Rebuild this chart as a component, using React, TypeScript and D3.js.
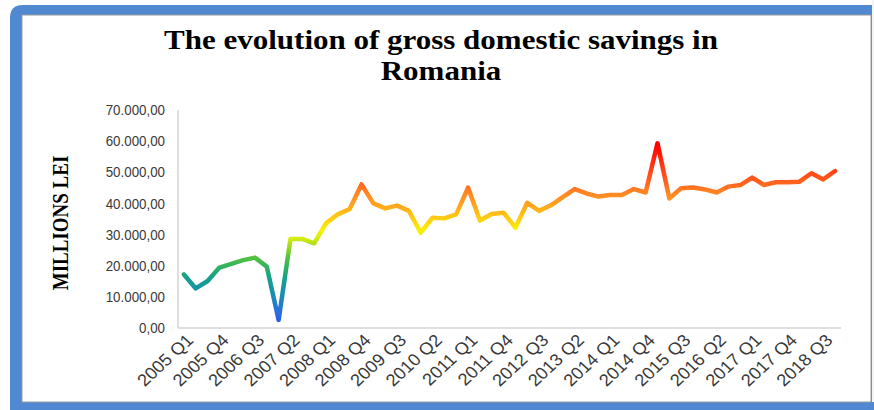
import React from "react";
import * as d3 from "d3";

const years = [2005, 2006, 2007, 2008, 2009, 2010, 2011, 2012, 2013, 2014, 2015, 2016, 2017, 2018];
const quarters = ["Q1", "Q2", "Q3", "Q4"];
const categories: string[] = [];
years.forEach((y) => quarters.forEach((q) => categories.push(`${y} ${q}`)));

// gross domestic savings, millions lei
const savings = [
  17200, 12700, 15100, 19400, 20600, 21800, 22600, 19700, 2600, 28600,
  28600, 27200, 33600, 36500, 38200, 46100, 40000, 38400, 39300, 37600,
  30600, 35400, 35200, 36500, 45100, 34500, 36600, 37000, 32200, 40200,
  37600, 39400, 42000, 44600, 43200, 42200, 42700, 42700, 44600, 43500,
  59300, 41600, 44900, 45100, 44500, 43500, 45400, 45900, 48300, 45900,
  46800, 46800, 47000, 49700, 47700, 50400,
];

const yTicks = [0, 10000, 20000, 30000, 40000, 50000, 60000, 70000];
const colorStops: [number, string][] = [
  [0, "#2450f0"],
  [5000, "#2a6ee0"],
  [11000, "#1790b0"],
  [16000, "#15a08c"],
  [20000, "#34b45c"],
  [23000, "#58c43c"],
  [26500, "#a6dc1c"],
  [29000, "#d8ee10"],
  [31500, "#fbf000"],
  [34000, "#ffd810"],
  [37000, "#ffbc18"],
  [40000, "#ffa020"],
  [44000, "#ff8024"],
  [46500, "#ff6420"],
  [50000, "#ff4818"],
  [59000, "#ff0000"],
];

const fmt = (v: number) => {
  const s = d3.format(",.2f")(v);
  return s.replace(/,/g, "#").replace(/\./g, ",").replace(/#/g, ".");
};

export default function App() {
  const W = 874;
  const H = 410;
  const x = d3.scaleBand<string>().domain(categories).range([178, 841]);
  const y = d3.scaleLinear().domain([0, 70000]).range([328, 110]);
  const cx = (c: string) => (x(c) as number) + x.bandwidth() / 2;
  const line = d3
    .line<number>()
    .x((_, i) => cx(categories[i]))
    .y((d) => y(d));
  const tickCats = categories.filter((_, i) => i % 3 === 0);

  return (
    <div style={{ position: "absolute", left: 0, top: 0 }}>
      <svg width={W} height={H} style={{ display: "block" }}>
        <defs>
          <linearGradient id="lg" gradientUnits="userSpaceOnUse" x1={0} x2={0} y1={y(0)} y2={y(60000)}>
            {colorStops.map(([v, c], i) => (
              <stop key={i} offset={v / 60000} stopColor={c} />
            ))}
          </linearGradient>
        </defs>
        <rect x={0} y={0} width={W} height={H} fill="#ffffff" />
        <path d="M10,18 Q10,5 23,5 L874,5 L874,410 L10,410 Z" fill="#5088d2" />
        <rect x={22} y={15} width={849} height={387} fill="#ffffff" stroke="#9a9a9a" strokeWidth={1} />
        <rect x={872} y={0} width={2} height={402} fill="#f4f4f4" />

        <g fontFamily="'Liberation Serif', 'Times New Roman', serif" fontWeight="bold" fill="#000">
          <text transform="translate(441,49) scale(1.17,1)" textAnchor="middle" fontSize={26.5}>
            The evolution of gross domestic savings in
          </text>
          <text transform="translate(441,80) scale(1.17,1)" textAnchor="middle" fontSize={26.5}>
            Romania
          </text>
          <text transform="translate(68,223) scale(1.25,1) rotate(-90)" textAnchor="middle" fontSize={19}>
            MILLIONS LEI
          </text>
        </g>

        <g fontFamily="'Liberation Sans', Arial, sans-serif" fill="#3a3a3a">
          {yTicks.map((t) => (
            <text
              key={t}
              transform={`translate(165,${y(t)}) scale(0.92,1)`}
              dy="0.35em"
              textAnchor="end"
              fontSize={14.5}
            >
              {fmt(t)}
            </text>
          ))}
          {tickCats.map((c) => (
            <text
              key={c}
              transform={`translate(${cx(c) + 6},${337}) scale(1.08,1) rotate(-45)`}
              dy="0.35em"
              textAnchor="end"
              fontSize={17}
            >
              {c}
            </text>
          ))}
        </g>

        <line x1={178} x2={178} y1={110} y2={328} stroke="#bfbfbf" strokeWidth={1} />
        <line x1={178} x2={841} y1={328} y2={328} stroke="#bfbfbf" strokeWidth={1} />

        <path
          d={line(savings) || ""}
          fill="none"
          stroke="url(#lg)"
          strokeWidth={4.5}
          strokeLinejoin="round"
          strokeLinecap="round"
        />
      </svg>
    </div>
  );
}
